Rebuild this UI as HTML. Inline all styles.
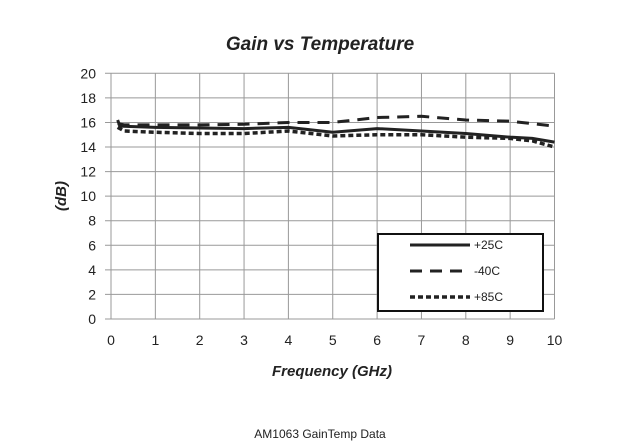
<!DOCTYPE html>
<html><head><meta charset="utf-8"><style>
body{margin:0;background:#fff;width:639px;height:443px;overflow:hidden;font-family:"Liberation Sans",sans-serif}
</style></head><body>
<svg id="chart" width="639" height="443" xmlns="http://www.w3.org/2000/svg"></svg>
<script>
const xTicks=[0,1,2,3,4,5,6,7,8,9,10];
const yTicks=[0,2,4,6,8,10,12,14,16,18,20];
const freq25=[0.15,0.2,1,2,3,4,5,6,7,8,9,9.5,10];
const gain25=[16.2,15.7,15.6,15.55,15.5,15.6,15.2,15.5,15.3,15.1,14.8,14.7,14.4];
const freqM40=[0.15,0.3,1,2,3,4,5,6,7,8,9,10];
const gainM40=[15.9,15.8,15.8,15.8,15.85,16.0,16.0,16.4,16.5,16.2,16.1,15.7];
const freq85=[0.15,0.3,1,2,3,4,5,6,7,8,9,9.5,10];
const gain85=[15.6,15.3,15.2,15.1,15.1,15.3,14.9,15.0,15.0,14.8,14.7,14.5,14.0];
const NS="http://www.w3.org/2000/svg";
const svg=document.getElementById('chart');
const x0=111,x1=554.5,y0=319,y1=73.3;
const X=v=>x0+(x1-x0)*v/10, Y=v=>y0-(y0-y1)*v/20;
function mk(t,a,txt){const e=document.createElementNS(NS,t);for(const k in a)e.setAttribute(k,a[k]);if(txt!==undefined)e.textContent=txt;svg.appendChild(e);return e;}
xTicks.forEach(v=>{const l=mk('line',{x1:X(v),x2:X(v),y1:y1,y2:y0,stroke:'#999','stroke-width':1});


const t=mk('text',{x:X(v),y:345,'text-anchor':'middle','font-size':14,fill:'#222'},v);

});
yTicks.forEach(v=>{const l=mk('line',{x1:x0-6,x2:x1,y1:Y(v),y2:Y(v),stroke:'#999','stroke-width':1});


const t=mk('text',{x:96,y:Y(v)+5,'text-anchor':'end','font-size':14,fill:'#222'},v);

});
function series(fx,gy,dash,w,name){const d=fx.map((f,i)=>(i?'L':'M')+X(f)+','+Y(gy[i])).join(' ');
const p=mk('path',{d:d,fill:'none',stroke:'#222','stroke-width':w,'stroke-dasharray':dash});

}
series(freq25,gain25,'none',3,'series-plus25c');
series(freqM40,gainM40,'12,8',3,'series-minus40c');
series(freq85,gain85,'5,3',3.5,'series-plus85c');
let e=mk('text',{x:320,y:50,'text-anchor':'middle','font-size':19,'font-weight':'bold','font-style':'italic',fill:'#222'},'Gain vs Temperature');

e=mk('text',{x:332,y:376,'text-anchor':'middle','font-size':15,'font-weight':'bold','font-style':'italic',fill:'#222'},'Frequency (GHz)');

e=mk('text',{x:0,y:0,'text-anchor':'middle','font-size':15,'font-weight':'bold','font-style':'italic',fill:'#222',transform:'translate(66,196) rotate(-90)'},'(dB)');

e=mk('rect',{x:378,y:234,width:165,height:77,fill:'#fff',stroke:'#111','stroke-width':2});

[['none',3,'+25C',245],['12,8',3,'-40C',271],['5,3',3.5,'+85C',297]].forEach(r=>{
const l=mk('line',{x1:410,x2:470,y1:r[3],y2:r[3],stroke:'#222','stroke-width':r[1],'stroke-dasharray':r[0]});

const t=mk('text',{x:474,y:r[3]+4,'font-size':12,fill:'#222'},r[2]);
});
e=mk('text',{x:320,y:438,'text-anchor':'middle','font-size':12,fill:'#222'},'AM1063 GainTemp Data');

</script>
</body></html>
